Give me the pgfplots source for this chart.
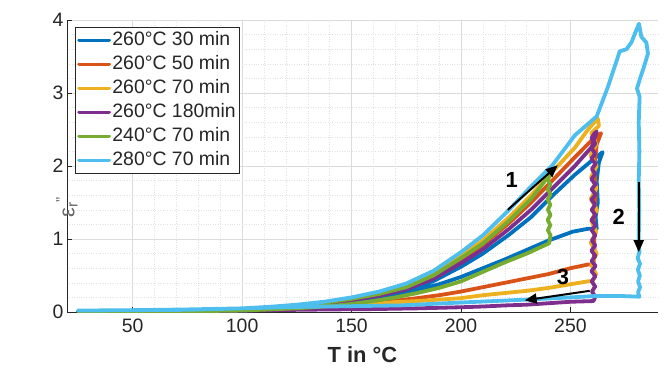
\documentclass[border=0pt]{standalone}
\usepackage{fontspec}
\setmainfont{Liberation Sans}
\usepackage{pgfplots}
\pgfplotsset{compat=1.18}
\usetikzlibrary{arrows.meta}

% MATLAB default line colours
\definecolor{c1}{HTML}{0072BD}
\definecolor{c2}{HTML}{D95319}
\definecolor{c3}{HTML}{EDB120}
\definecolor{c4}{HTML}{7E2F8E}
\definecolor{c5}{HTML}{77AC30}
\definecolor{c6}{HTML}{4DBEEE}
\definecolor{axgray}{HTML}{262626}

\begin{document}
\begin{tikzpicture}
\path[use as bounding box] (-67bp,-58bp) rectangle (603bp,312bp);
\begin{axis}[
  scale only axis, width=591bp, height=292bp,
  xmin=20, xmax=290, ymin=0, ymax=4,
  axis x line*=bottom, axis y line*=left,
  axis line style={-, draw=axgray, line width=0.6bp},
  xtick={50,100,150,200,250}, ytick={0,1,2,3,4},
  minor x tick num=4, minor y tick num=4,
  grid=both,
  major grid style={draw=black!14, line width=0.6bp},
  minor grid style={draw=black!11, dotted, line width=0.5bp},
  tick align=inside, major tick length=5bp, minor tick length=0pt,
  tick style={draw=axgray, line width=0.6bp},
  ticklabel style={font=\fontsize{19.5}{22}\selectfont, text=axgray},
  xticklabel style={yshift=-3bp},
  /pgf/number format/assume math mode=true,
  xlabel={T in °C},
  xlabel style={font=\bfseries\fontsize{22}{24}\selectfont, text=axgray,
    at={(axis description cs:0.5,0)}, anchor=center, yshift=-43bp},
  ylabel={ε\textsubscript{r}\textsuperscript{"}},
  ylabel style={font=\fontsize{22}{24}\selectfont, text=black!60,
    at={(axis description cs:0,0.5)}, anchor=center, xshift=-41bp},
  legend style={at={(0,1)}, anchor=north west, xshift=8bp, yshift=-7bp,
    draw=axgray, line width=0.6bp, fill=white,
    font=\fontsize{19.5}{22}\selectfont, text=axgray,
    inner xsep=2bp, inner ysep=1bp, row sep=0bp,
    nodes={inner xsep=1.5bp, inner ysep=2bp, text height=15bp, text depth=5bp}},
  legend cell align=left,
  legend image code/.code={\draw[#1, line width=3.6bp] (0bp,0bp) -- (30bp,0bp);},
  every axis plot/.append style={line width=3.8bp, line join=round, line cap=round},
]

% 260 °C, 30 min
\addplot[c1] coordinates {
(25,0.01)(50,0.015)(75,0.02)(100,0.03)(112.5,0.047)(125,0.075)(137.5,0.106)(150,0.15)
(162.5,0.209)(175,0.29)(187.5,0.424)(200,0.62)
(210,0.80)(222,1.06)(232,1.30)(242,1.60)(252,1.88)(260,2.08)(264.7,2.19)
(263,2.05)(262,1.8)(262.5,1.5)(261.5,1.3)(262,1.14)
(258,1.14)(251,1.10)(240,0.98)(230,0.85)(220,0.72)(210,0.60)(200,0.48)(190,0.38)
(180,0.30)(170,0.23)(160,0.17)(150,0.12)(140,0.08)(125,0.05)(100,0.02)(75,0.01)
(50,0.01)(25,0.01)};
\addlegendentry{260°C 30 min}

% 260 °C, 50 min
\addplot[c2] coordinates {
(25,0.01)(50,0.015)(75,0.02)(100,0.04)(112.5,0.058)(125,0.085)(137.5,0.12)(150,0.17)
(162.5,0.237)(175,0.33)(187.5,0.487)(200,0.72)
(210,0.92)(222,1.22)(232,1.50)(242,1.81)(252,2.12)(260,2.36)(264,2.45)
(262,2.3)(261,2.0)(261.5,1.6)(260.5,1.2)(261,0.9)(260.5,0.65)
(258,0.65)(250,0.60)(240,0.52)(230,0.46)(220,0.40)(210,0.34)(200,0.28)(190,0.23)
(180,0.19)(170,0.155)(160,0.125)(150,0.10)(140,0.08)(125,0.055)(100,0.03)(75,0.02)
(50,0.01)(25,0.01)};
\addlegendentry{260°C 50 min}

% 260 °C, 70 min
\addplot[c3] coordinates {
(25,0.01)(50,0.015)(75,0.02)(100,0.04)(112.5,0.06)(125,0.09)(137.5,0.127)(150,0.18)
(162.5,0.251)(175,0.35)(187.5,0.519)(200,0.77)
(210,0.98)(222,1.30)(232,1.60)(242,1.93)(252,2.25)(258,2.50)(262.5,2.65)(263,2.55)
(259.5,2.45)(261.8,2.3)(259.2,2.15)(262,2.0)(259.4,1.85)(261.9,1.7)(259.3,1.55)
(262.1,1.4)(259.5,1.25)(261.8,1.1)(259.3,0.95)(262,0.8)(259.5,0.65)(261.7,0.52)(260,0.42)
(258,0.42)(250,0.38)(240,0.33)(230,0.29)(220,0.26)(210,0.23)(200,0.19)(190,0.17)
(180,0.15)(170,0.135)(160,0.11)(150,0.09)(140,0.08)(125,0.06)(100,0.03)(75,0.02)
(50,0.01)(25,0.01)};
\addlegendentry{260°C 70 min}

% 260 °C, 180 min
\addplot[c4] coordinates {
(25,0.01)(50,0.015)(75,0.02)(100,0.035)(112.5,0.053)(125,0.08)(137.5,0.113)(150,0.16)
(162.5,0.223)(175,0.31)(187.5,0.456)(200,0.67)
(210,0.86)(222,1.14)(232,1.40)(242,1.70)(252,2.0)(259.7,2.26)(262,2.47)(261,2.45)
(259.6,2.38)(261.4,2.31)(259.7,2.24)(261.3,2.17)(259.5,2.10)(261.5,2.03)(259.8,1.96)
(261.3,1.89)(259.6,1.82)(261.4,1.75)(259.7,1.68)(261.5,1.61)(259.6,1.54)(261.3,1.47)
(259.7,1.40)(261.4,1.33)(259.6,1.26)(261.5,1.19)(259.7,1.12)(261.4,1.05)(259.8,0.98)
(261.3,0.91)(259.6,0.84)(261.4,0.77)(259.7,0.70)(261.5,0.63)(259.6,0.56)(261.4,0.49)
(259.7,0.42)(261.3,0.35)(259.8,0.28)(261.4,0.21)(260.5,0.15)
(250,0.14)(240,0.12)(230,0.10)(220,0.09)(210,0.075)(200,0.065)(180,0.05)(160,0.04)
(140,0.035)(126,0.03)(100,0.02)(75,0.01)(50,0.005)(25,0.0)};
\addlegendentry{260°C 180min}

% 240 °C, 70 min
\addplot[c5] coordinates {
(25,0.01)(50,0.015)(75,0.02)(100,0.04)(112.5,0.06)(125,0.09)(137.5,0.127)(150,0.18)
(162.5,0.247)(175,0.34)(187.5,0.502)(200,0.74)
(210,0.94)(222,1.25)(232,1.55)(238,1.78)(240,1.90)(241.5,1.96)(241,1.88)
(239.6,1.82)(240.8,1.75)(239.7,1.68)(240.9,1.61)(239.6,1.54)(240.8,1.47)(239.7,1.40)
(240.9,1.33)(239.6,1.26)(240.8,1.19)(239.7,1.12)(240.9,1.05)(240.2,0.94)
(230,0.80)(220,0.68)(210,0.55)(200,0.42)(190,0.33)(180,0.26)(170,0.20)(160,0.15)
(150,0.11)(140,0.08)(125,0.05)(100,0.02)(75,0.01)(50,0.01)(25,0.01)};
\addlegendentry{240°C 70 min}

% 280 °C, 70 min
\addplot[c6] coordinates {
(25,0.02)(50,0.025)(75,0.03)(100,0.05)(112.5,0.071)(125,0.10)(137.5,0.141)(150,0.20)
(162.5,0.279)(175,0.39)(187.5,0.565)(200,0.82)
(210,1.05)(222,1.40)(232,1.72)(242,2.02)(252,2.42)(262,2.68)(267.2,3.09)(272.5,3.57)
(275.6,3.60)(277.8,3.69)(281.3,3.95)(282.4,3.77)(284.7,3.69)(285.4,3.54)(283.5,3.35)
(281.6,3.18)(280.4,3.06)(281.6,2.95)(281.2,2.6)(281.5,2.2)(281.2,1.8)(281.4,1.4)
(281.2,1.0)(281.5,0.82)(280.7,0.74)(281.8,0.66)(280.8,0.58)(281.7,0.50)(280.9,0.42)
(281.8,0.34)(280.9,0.27)(281.5,0.21)
(272,0.22)(262,0.22)(250,0.20)(240,0.185)(230,0.17)(215,0.15)(200,0.13)(172,0.09)
(150,0.08)(126,0.07)(100,0.05)(75,0.035)(50,0.025)(25,0.02)};
\addlegendentry{280°C 70 min}

% process direction: heating, holding, cooling
\draw[-{Triangle[length=12bp,width=10bp]}, line width=2bp] (axis cs:221.4,1.40) -- (axis cs:244.2,2.01);
\draw[-{Triangle[length=12bp,width=10bp]}, line width=2bp] (axis cs:281.2,1.78) -- (axis cs:281.2,0.82);
\draw[-{Triangle[length=12bp,width=10bp]}, line width=2bp] (axis cs:258.8,0.29) -- (axis cs:229.1,0.16);
\node[font=\bfseries\fontsize{22}{24}\selectfont] at (axis cs:223.2,1.81) {1};
\node[font=\bfseries\fontsize{22}{24}\selectfont] at (axis cs:272,1.30) {2};
\node[font=\bfseries\fontsize{22}{24}\selectfont] at (axis cs:246.6,0.48) {3};
\end{axis}
\end{tikzpicture}
\end{document}
